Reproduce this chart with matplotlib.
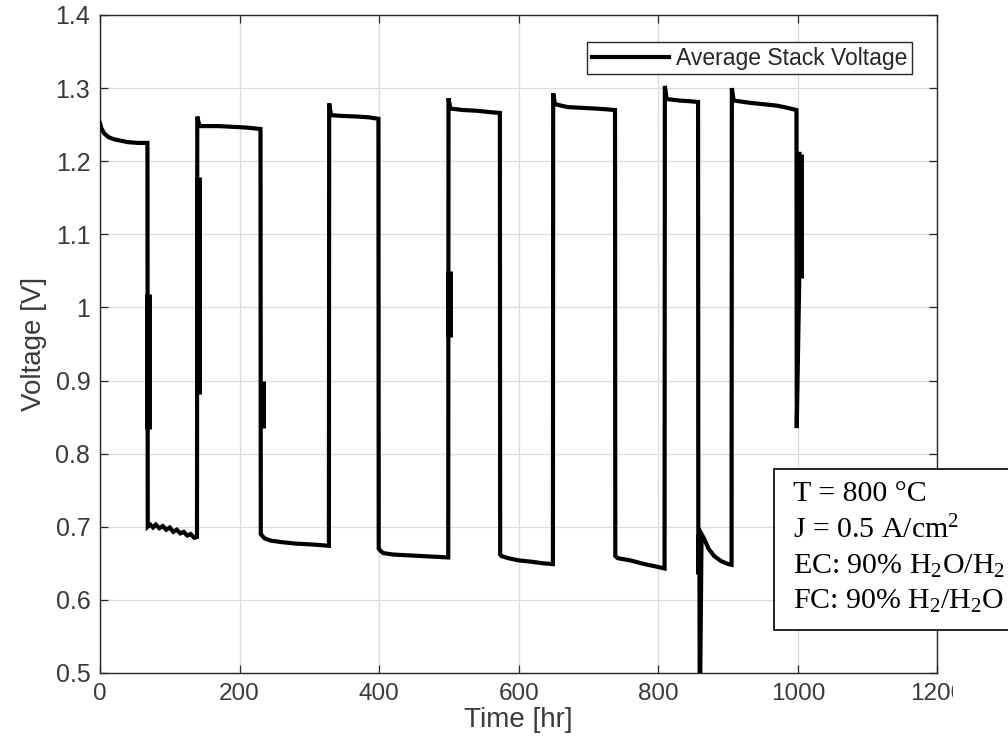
import matplotlib
matplotlib.use("Agg")
import matplotlib.pyplot as plt
from matplotlib.patches import Rectangle
from matplotlib.transforms import Bbox

# ---- data ----
time_hr = [0, 2, 6, 12, 20, 30, 40, 55, 68,
           68.4, 72, 76, 80, 85, 90, 95, 100, 105, 110, 115, 120, 125, 130, 135, 139,
           139.4, 142, 144, 150, 170, 190, 210, 230,
           230.4, 234, 236, 245, 260, 280, 300, 315, 328,
           328.4, 331, 345, 370, 385, 399,
           399.4, 402, 406, 420, 440, 460, 480, 499,
           499.4, 502, 520, 540, 560, 573,
           573.4, 575, 585, 600, 620, 635, 649,
           649.4, 652, 670, 690, 710, 725, 738,
           738.4, 742, 760, 780, 795, 809,
           809.4, 812, 830, 845, 857,
           857.4, 859, 859.4, 862, 865, 872, 880, 890, 900, 905,
           905.4, 908, 930, 950, 970, 985, 998,
           998.4, 1002, 1002.4]
voltage_V = [1.252, 1.245, 1.238, 1.233, 1.230, 1.228, 1.226, 1.225, 1.225,
             0.700, 0.703, 0.699, 0.703, 0.698, 0.701, 0.696, 0.699, 0.693, 0.696, 0.691, 0.693, 0.688, 0.690, 0.685, 0.686,
             1.261, 1.250, 1.248, 1.248, 1.248, 1.247, 1.246, 1.244,
             0.690, 0.686, 0.684, 0.681, 0.679, 0.677, 0.676, 0.675, 0.674,
             1.279, 1.263, 1.262, 1.261, 1.260, 1.258,
             0.670, 0.667, 0.664, 0.662, 0.661, 0.660, 0.659, 0.658,
             1.286, 1.272, 1.270, 1.269, 1.267, 1.266,
             0.662, 0.660, 0.657, 0.654, 0.652, 0.650, 0.649,
             1.293, 1.278, 1.274, 1.273, 1.272, 1.271, 1.270,
             0.660, 0.657, 0.654, 0.649, 0.646, 0.643,
             1.303, 1.285, 1.283, 1.282, 1.281,
             0.640, 0.640, 0.420, 0.690, 0.685, 0.670, 0.660, 0.653, 0.649, 0.648,
             1.300, 1.283, 1.280, 1.278, 1.276, 1.273, 1.270,
             0.835, 1.040, 1.210]

# short noisy transients at switching instants (drawn as thick vertical strokes)
spike_t = [69.5, 140, 231.5, 500, 858.2, 1002.4]
spike_lo = [0.834, 0.882, 0.835, 0.960, 0.636, 1.040]
spike_hi = [1.019, 1.178, 0.900, 1.050, 0.690, 1.210]

x_ticks = [0, 200, 400, 600, 800, 1000, 1200]
y_ticks = [0.5, 0.6, 0.7, 0.8, 0.9, 1.0, 1.1, 1.2, 1.3, 1.4]

legend_label = "Average Stack Voltage"
info_lines = ["T = 800 °C",
              "J = 0.5 A/cm$^2$",
              "EC: 90% H$_2$O/H$_2$",
              "FC: 90% H$_2$/H$_2$O"]

# ---- styling ----
plt.rcParams["font.family"] = ["Liberation Sans", "DejaVu Sans"]
plt.rcParams["mathtext.fontset"] = "custom"
plt.rcParams["mathtext.rm"] = "Liberation Serif"
plt.rcParams["mathtext.it"] = "Liberation Serif:italic"

fig = plt.figure(figsize=(10.08, 7.56), dpi=100)
ax = fig.add_axes([0.0992, 0.1098, 0.8308, 0.8704])

axis_col = "#262626"
text_col = "#3a3a3a"

ax.plot(time_hr, voltage_V, color="black", lw=3.0, solid_joinstyle="miter",
        label=legend_label, zorder=3)
ax.vlines(spike_t, spike_lo, spike_hi, color="black", lw=5.0, zorder=3)

ax.set_xlim(0, 1200)
ax.set_ylim(0.5, 1.4)
ax.set_xticks(x_ticks)
ax.set_yticks(y_ticks)
ax.set_xticklabels([f"{v:g}" for v in x_ticks])
ax.set_yticklabels([f"{v:g}" for v in y_ticks])
ax.grid(True, color="#dcdcdc", lw=0.9)
ax.set_axisbelow(True)
ax.tick_params(direction="in", length=6, width=0.9, top=True, right=True,
               colors=axis_col, labelcolor=text_col, pad=7)
ax.tick_params(axis="x", labelsize=17.5)
ax.tick_params(axis="y", labelsize=18)
for s in ax.spines.values():
    s.set_color(axis_col)
    s.set_linewidth(1.0)

# the original picture is cropped just right of the axes: last tick label is cut
lab = ax.get_xticklabels()[-1]
lab.set_clip_box(Bbox([[0, 0], [953, 756]]))
lab.set_clip_on(True)

ax.set_xlabel("Time [hr]", fontsize=20, color=text_col, labelpad=2)
ax.set_ylabel("Voltage [V]", fontsize=20, color=text_col, labelpad=6)

leg = ax.legend(loc="upper right", bbox_to_anchor=(0.970, 0.959),
                fontsize=16.5, handlelength=3.4, handletextpad=0.3,
                borderpad=0.2, borderaxespad=0, fancybox=False, framealpha=1)
leg.get_frame().set_edgecolor(axis_col)
leg.get_frame().set_linewidth(1.0)
for t in leg.get_texts():
    t.set_color(axis_col)

# info box (extends past the right figure edge, as in the reference)
box = Rectangle((774 / 1008, (756 - 630) / 756), 0.4, (630 - 469) / 756,
                transform=fig.transFigure, facecolor="white", edgecolor="black",
                lw=1.2, zorder=10)
fig.add_artist(box)
line_y = [494, 530, 566, 601]
for txt, yp in zip(info_lines, line_y):
    fig.text(793 / 1008, 1 - yp / 756, txt, fontsize=21.5, va="center",
             ha="left", family="Liberation Serif", color="black", zorder=11)

fig.savefig("out.png", dpi=100)
